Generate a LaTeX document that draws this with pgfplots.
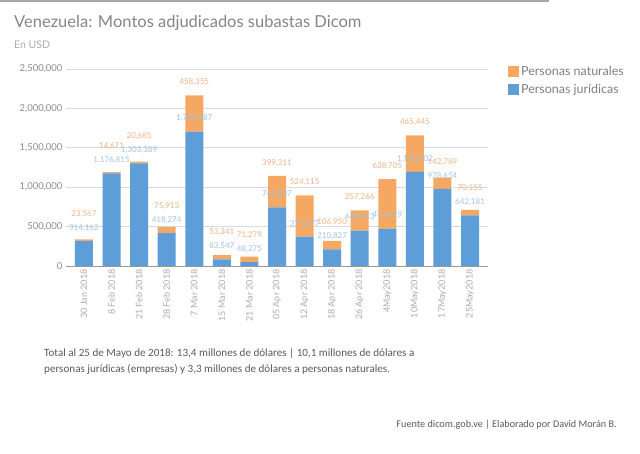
\documentclass[border=0pt]{standalone}
\usepackage{pgfplots}
\pgfplotsset{compat=1.18}
\usepackage{pgfplotstable}
\usepackage{fontspec}
\setmainfont{Lato}
\newfontfamily\carlito{Carlito}
\definecolor{jblue}{HTML}{5D9DD8}
\definecolor{norange}{HTML}{F4A862}
\definecolor{jlab}{HTML}{9DC3E6}
\definecolor{nlab}{HTML}{F4B183}
\definecolor{titlegray}{HTML}{858585}
\definecolor{leggray}{HTML}{7F7F7F}
\definecolor{subgray}{HTML}{ABABAB}
\definecolor{tickgray}{HTML}{8C8C8C}
\definecolor{textgray}{HTML}{595959}
\pgfplotstableread{
x j n
0 314162 23567
1 1176815 14671
2 1303389 20685
3 418274 75913
4 1705987 458355
5 83547 53341
6 48275 71279
7 745237 399311
8 371277 524115
9 210827 106950
10 448913 257266
11 474429 628705
12 1193202 465445
13 978654 142789
14 642181 70155
}\datatable
\pgfplotsset{
  common/.style={
    at={(66pt,187pt)}, anchor=south west,
    scale only axis, width=422pt, height=197pt,
    xmin=-0.65, xmax=14.65, ymin=0, ymax=2500000,
    /pgf/number format/assume math mode=true,
  },
}
\begin{document}
\begin{tikzpicture}[x=1pt,y=1pt]
\useasboundingbox (0,0) rectangle (640,453);
\draw[gray!70, line width=1.2pt] (0,452) -- (549,452);
\node[anchor=base west, inner sep=0, font=\fontsize{16.5}{19}\selectfont, text=titlegray] at (14,453-28) {Venezuela: Montos adjudicados subastas Dicom};
\node[anchor=base west, inner sep=0, font=\fontsize{10.5}{12}\selectfont, text=subgray] at (14,453-49) {En USD};
\begin{axis}[
  common,
  ybar stacked, bar width=18pt,
  axis x line*=bottom, axis y line*=left,
  x axis line style={-, draw=gray!80, line width=1pt},
  y axis line style={draw=none},
  major tick length=0pt,
  ytick={0,500000,1000000,1500000,2000000,2500000},
  scaled y ticks=false,
  yticklabel style={/pgf/number format/fixed, /pgf/number format/1000 sep={,}, font=\fontsize{9.5}{11}\selectfont, text=tickgray},
  ymajorgrids, grid style={gray!30, line width=0.6pt},
  xtick={0,...,14},
  xticklabels={30 Jan 2018, 8 Feb 2018, 21 Feb 2018, 28 Feb 2018, 7 Mar 2018, 15 Mar 2018, 21 Mar 2018, 05 Apr 2018, 12 Apr 2018, 18 Apr 2018, 26 Apr 2018, 4May2018, 10May2018, 17May2018, 25May2018},
  xticklabel style={rotate=90, anchor=east, font=\fontsize{9}{10}\selectfont, text=subgray},
  reverse legend,
  legend style={at={(1.04,1.035)}, anchor=north west, draw=none, fill=none, font=\fontsize{12.5}{14}\selectfont, text=leggray, row sep=3pt, legend cell align=left},
  legend image code/.code={\fill[#1] (0pt,-5.5pt) rectangle (11pt,5.5pt);},
]
\addplot[fill=jblue, draw=none] table[x=x, y=j] {\datatable};
\addlegendentry{Personas jurídicas}
\addplot[fill=norange, draw=none] table[x=x, y=n] {\datatable};
\addlegendentry{Personas naturales}
\end{axis}
\begin{axis}[
  common, hide axis,
  nodes near coords, point meta=explicit,
  every node near coord/.append style={font=\fontsize{8}{9}\selectfont, anchor=center, yshift=13pt, /pgf/number format/fixed, /pgf/number format/1000 sep={,}},
]
\addplot[draw=none, mark=none, every node near coord/.append style={text=jlab}] table[x=x, y=j, meta=j] {\datatable};
\addplot[draw=none, mark=none, every node near coord/.append style={text=nlab}] table[x=x, y expr={max(\thisrow{j}+\thisrow{n},\thisrow{j}+175000)}, meta=n] {\datatable};
\end{axis}
\node[anchor=base west, align=left, inner sep=0, font=\carlito\fontsize{11.1}{16}\selectfont, text=textgray] at (44,453-372) {Total al 25 de Mayo de 2018: 13,4 millones de dólares | 10,1 millones de dólares a\\personas jurídicas (empresas) y 3,3 millones de dólares a personas naturales.};
\node[anchor=base east, inner sep=0, font=\carlito\fontsize{10.2}{12}\selectfont, text=textgray] at (617,453-427) {Fuente dicom.gob.ve | Elaborado por David Morán B.};
\end{tikzpicture}
\end{document}
